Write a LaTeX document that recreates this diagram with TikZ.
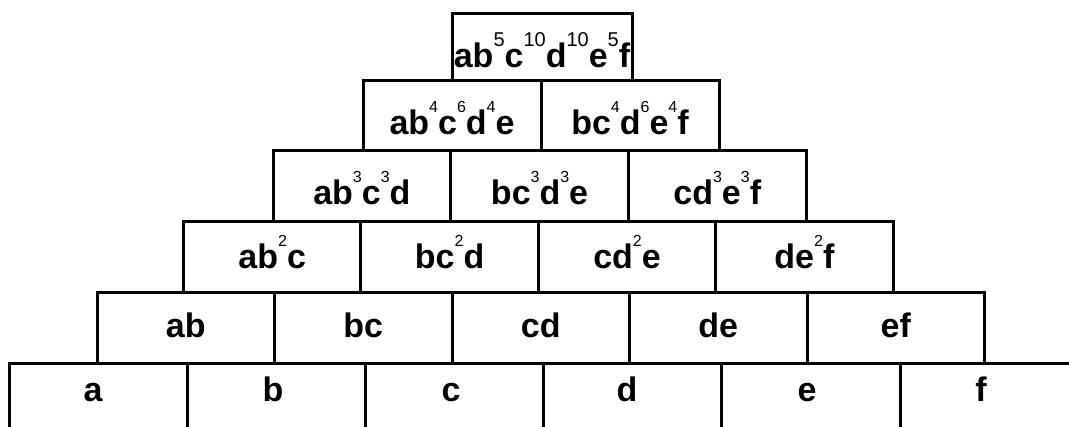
\documentclass[tikz,border=0pt]{standalone}
\usepackage{fontspec}
\setmainfont{Liberation Sans}
\newcommand\supx[1]{\raisebox{22pt}{\fontsize{16}{16}\selectfont\mdseries #1}}
\newcommand\supt[1]{\raisebox{21pt}{\fontsize{20}{20}\selectfont\mdseries #1}}
\begin{document}
\begin{tikzpicture}[x=1pt,y=-1pt,line width=3pt,line join=miter,
  txt/.style={font=\fontsize{34}{34}\selectfont\bfseries,anchor=base,inner sep=0pt}]
\useasboundingbox (0,0) rectangle (1069,427);
\fill[white] (0,0) rectangle (1069,427);
% bottom row (open)
\draw (9,427) -- (9,364) -- (1069,364);
\foreach \i in {1,...,5} \draw (9+\i*178.2,364) -- (9+\i*178.2,427);
\foreach \t/\x [count=\i] in {a/93,b/273,c/451,d/627,e/807,f/981}
  \node[txt] (r0c\i) at (\x,402) {\t};
% row 1
\foreach \t [count=\i from 0] in {ab,bc,cd,de,ef}{
  \draw (97+\i*177.5,293) rectangle ++(177.5,71);
  \node[txt] (r1c\i) at (97+\i*177.5+88.75,338) {\t};}
% row 2
\foreach \t [count=\i from 0] in {ab\supx{2}c,bc\supx{2}d,cd\supx{2}e,de\supx{2}f}{
  \draw (183.5+\i*177.4,222) rectangle ++(177.4,71);
  \node[txt] (r2c\i) at (183.5+\i*177.4+88.7,269) {\t};}
% row 3
\foreach \t [count=\i from 0] in {ab\supx{3}c\supx{3}d,bc\supx{3}d\supx{3}e,cd\supx{3}e\supx{3}f}{
  \draw (273+\i*177.7,151) rectangle ++(177.7,71);
  \node[txt] (r3c\i) at (273+\i*177.7+88.85,205) {\t};}
% row 4
\foreach \t [count=\i from 0] in {ab\supx{4}c\supx{6}d\supx{4}e,bc\supx{4}d\supx{6}e\supx{4}f}{
  \draw (363+\i*178,81) rectangle ++(178,70);
  \node[txt] (r4c\i) at (363+\i*178+89,135) {\t};}
% row 5
\draw (452,14) rectangle (632,81);
\node[txt] (r5c0) at (542,68) {ab\supt{5}c\supt{10}d\supt{10}e\supt{5}f};
\end{tikzpicture}
\end{document}
